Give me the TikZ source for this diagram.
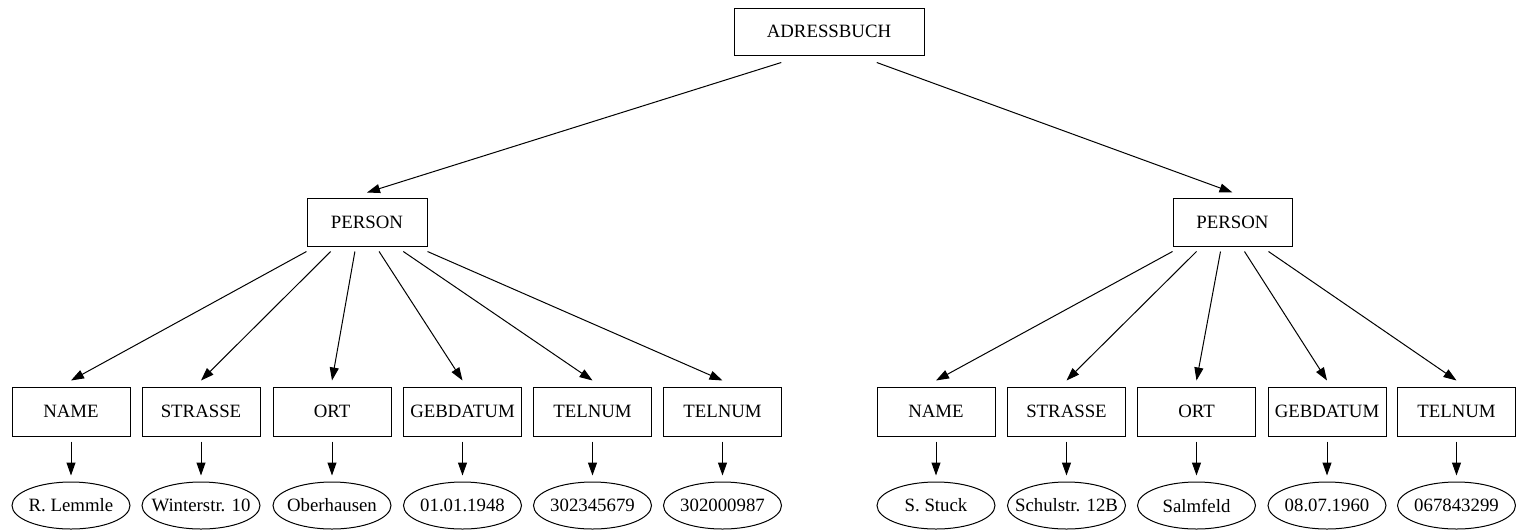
\documentclass[tikz,border=0pt]{standalone}
\usepackage{fontspec}
\setmainfont{Liberation Serif}
\usetikzlibrary{shapes.geometric,arrows.meta,calc}
\begin{document}
\begin{tikzpicture}[x=1pt,y=-1pt,
  font=\fontsize{18.8}{22}\selectfont,
  box/.style={draw, line width=1pt, rectangle, inner sep=0pt, minimum width=118pt, minimum height=49pt},
  val/.style={draw, line width=1pt, ellipse, inner sep=0pt, minimum width=118pt, minimum height=47pt},
  arr/.style={line width=1pt, -{Triangle[length=13pt,width=9pt]}},
]
\useasboundingbox (0,0) rectangle (1516,531);

% root and the two person records
\node[box, minimum width=190pt, minimum height=47pt] (root) at (829,31.5) {ADRESSBUCH};
\node[box, minimum width=120pt, minimum height=48pt] (pL) at (367,222) {PERSON};
\node[box, minimum width=119pt, minimum height=48pt] (pR) at (1232.5,222) {PERSON};

\draw[arr] ($(root.south west)!0.25!(root.south east)+(0,7)$) -- ([yshift=5pt]pL.north);
\draw[arr] ($(root.south west)!0.75!(root.south east)+(0,7)$) -- ([yshift=5pt]pR.north);

% first person: fields and values (values kept in fixed-size ellipses)
\foreach \i/\x/\t/\v in {1/71/NAME/R. Lemmle, 2/201/STRASSE/Winterstr. 10, 3/332/ORT/Oberhausen,
                         4/462.5/GEBDATUM/01.01.1948, 5/592.5/TELNUM/302345679, 6/722.5/TELNUM/302000987} {
  \node[box] (aL\i) at (\x,411.5) {\t};
  \node[val] (vL\i) at (\x,505.5) {\makebox[0pt]{\v}};
  \draw[arr] ([yshift=-5pt]aL\i.south) -- ([yshift=6pt]vL\i.north);
  \draw[arr] ($(pL.south west)!{(\i-1)/5}!(pL.south east)+(0,5)$) -- ([yshift=6pt]aL\i.north);
}

% second person: fields and values
\foreach \i/\x/\t/\v in {1/936/NAME/S. Stuck, 2/1066.5/STRASSE/Schulstr. 12B, 3/1196.5/ORT/Salmfeld,
                         4/1327/GEBDATUM/08.07.1960, 5/1456.5/TELNUM/067843299} {
  \node[box] (aR\i) at (\x,411.5) {\t};
  \node[val] (vR\i) at (\x,505.5) {\makebox[0pt]{\v}};
  \draw[arr] ([yshift=-5pt]aR\i.south) -- ([yshift=6pt]vR\i.north);
  \draw[arr] ($(pR.south west)!{(\i-1)/5}!(pR.south east)+(0,5)$) -- ([yshift=6pt]aR\i.north);
}
\end{tikzpicture}
\end{document}
